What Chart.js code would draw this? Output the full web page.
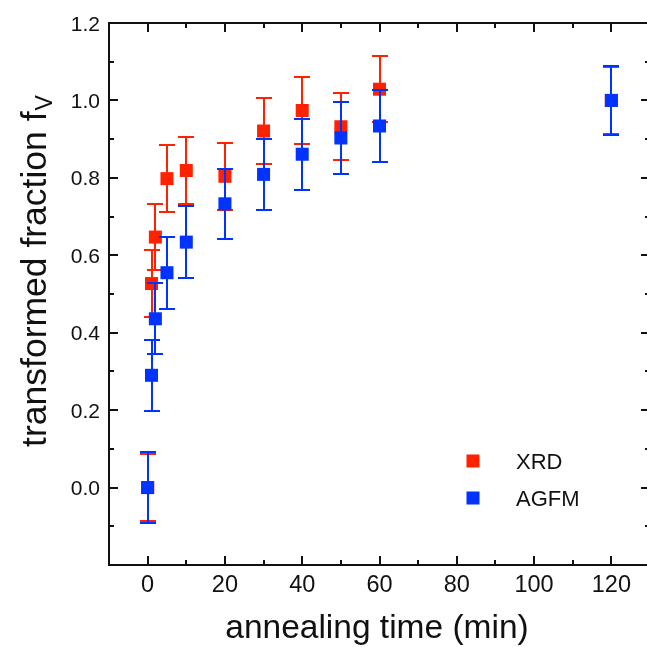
<!DOCTYPE html>
<html>
<head>
<meta charset="utf-8">
<script src="https://cdn.jsdelivr.net/npm/chart.js@4/dist/chart.umd.min.js"></script>
<style>
  html, body { margin: 0; padding: 0; background: #fff; overflow: hidden; width: 647px; height: 647px; }
  #wrap { position: absolute; left: 0; top: 0; width: 660px; height: 647px; }
</style>
</head>
<body>
<div id="wrap"><canvas id="c" width="660" height="647"></canvas></div>
<script>
// ---- data ----
const times = [0, 1, 2, 5, 10, 20, 30, 40, 50, 60, 120];
const xrdValues = [0.0, 0.527, 0.647, 0.798, 0.819, 0.804, 0.921, 0.974, 0.932, 1.029, 1.0];
const xrdErrors = [0.086, 0.086, 0.086, 0.086, 0.086, 0.086, 0.086, 0.087, 0.086, 0.086, 0.086];
const agfmValues = [0.0, 0.29, 0.436, 0.555, 0.634, 0.733, 0.809, 0.861, 0.903, 0.934, 1.0];
const agfmErrors = [0.091, 0.091, 0.092, 0.093, 0.093, 0.091, 0.092, 0.092, 0.092, 0.092, 0.09];
const seriesNames = ['XRD', 'AGFM'];
const xTickLabels = ['0', '20', '40', '60', '80', '100', '120'];
const yTickLabels = ['0.0', '0.2', '0.4', '0.6', '0.8', '1.0', '1.2'];
const xTitle = 'annealing time (min)';
const yTitle = 'transformed fraction f';
const yTitleSub = 'V';

const RED = 'rgb(255,34,0)';
const BLUE = 'rgb(0,51,255)';
const FONT = '"Liberation Sans", Arial, Helvetica, sans-serif';

function toPoints(vals) { return times.map((t, i) => ({ x: t, y: vals[i] })); }

const errorBars = {
  id: 'errorBars',
  beforeDatasetDraw(chart, args) {
    const ds = chart.data.datasets[args.index];
    const ys = chart.scales.y;
    const ctx = chart.ctx;
    ctx.save();
    ctx.strokeStyle = ds.borderColor;
    ctx.lineWidth = 2;
    args.meta.data.forEach((el, i) => {
      const v = ds.data[i].y, e = ds.errors[i];
      const yt = Math.round(ys.getPixelForValue(v + e)), yb = Math.round(ys.getPixelForValue(v - e));
      const x = Math.round(el.x);
      ctx.beginPath();
      ctx.moveTo(x, yt); ctx.lineTo(x, yb);
      ctx.moveTo(x - 8, yt); ctx.lineTo(x + 8, yt);
      ctx.moveTo(x - 8, yb); ctx.lineTo(x + 8, yb);
      ctx.stroke();
    });
    ctx.restore();
  }
};

const frame = {
  id: 'frame',
  afterDraw(chart) {
    const ctx = chart.ctx, a = chart.chartArea;
    const xs = chart.scales.x, ys = chart.scales.y;
    ctx.save();
    ctx.strokeStyle = '#111';
    ctx.lineWidth = 2;
    ctx.beginPath();
    ctx.rect(a.left, a.top, a.right - a.left, a.bottom - a.top);
    ctx.stroke();
    // inward ticks
    ctx.beginPath();
    xs.ticks.forEach(t => {
      const v = Math.round(t.value);
      const x = Math.round(xs.getPixelForValue(v));
      const len = (v % 20 === 0) ? 9 : 5;
      ctx.moveTo(x, a.bottom); ctx.lineTo(x, a.bottom - len);
      ctx.moveTo(x, a.top); ctx.lineTo(x, a.top + len);
    });
    ys.ticks.forEach(t => {
      const k = Math.round(t.value * 10);
      const y = Math.round(ys.getPixelForValue(k / 10));
      const len = (k % 2 === 0) ? 9 : 5;
      ctx.moveTo(a.left, y); ctx.lineTo(a.left + len, y);
      ctx.moveTo(a.right, y); ctx.lineTo(a.right - len, y);
    });
    ctx.stroke();

    ctx.fillStyle = '#111';
    ctx.textBaseline = 'alphabetic';

    // tick labels
    ctx.font = '23.5px ' + FONT;
    ctx.textAlign = 'center';
    xTickLabels.forEach(s => {
      ctx.fillText(s, xs.getPixelForValue(Number(s)), a.bottom + 27);
    });
    ctx.font = '21px ' + FONT;
    ctx.textAlign = 'right';
    yTickLabels.forEach(s => {
      ctx.fillText(s, a.left - 9, ys.getPixelForValue(Number(s)) + 7.5);
    });

    // axis titles
    ctx.font = '33.5px ' + FONT;
    ctx.textAlign = 'center';
    ctx.fillText(xTitle, 377, 638);

    ctx.save();
    ctx.translate(45.5, 0);
    ctx.rotate(-Math.PI / 2);
    ctx.font = '35.5px ' + FONT;
    const w1 = ctx.measureText(yTitle).width;
    ctx.font = '23px ' + FONT;
    const w2 = ctx.measureText(yTitleSub).width;
    const total = w1 + w2 + 1;
    const cy = 271;
    const start = -cy - total / 2;
    ctx.textAlign = 'left';
    ctx.font = '35.5px ' + FONT;
    ctx.fillText(yTitle, start, 0);
    ctx.font = '23px ' + FONT;
    ctx.fillText(yTitleSub, start + w1 + 1, 6);
    ctx.restore();

    // legend
    ctx.font = '22px ' + FONT;
    ctx.textAlign = 'left';
    chart.data.datasets.forEach(ds => {
      const idx = seriesNames.indexOf(ds.label);
      const cx = 473, cyL = 461 + idx * 37;
      ctx.fillStyle = ds.backgroundColor;
      ctx.fillRect(cx - 6.5, cyL - 6.5, 13, 13);
      ctx.fillStyle = '#111';
      ctx.fillText(ds.label, 516, cyL + 7.8);
    });
    ctx.restore();
  }
};

new Chart(document.getElementById('c'), {
  type: 'scatter',
  data: {
    datasets: [
      { label: seriesNames[1], data: toPoints(agfmValues), errors: agfmErrors,
        backgroundColor: BLUE, borderColor: BLUE, pointStyle: 'rect', pointRadius: 9.2,
        pointBorderWidth: 0, order: 1 },
      { label: seriesNames[0], data: toPoints(xrdValues), errors: xrdErrors,
        backgroundColor: RED, borderColor: RED, pointStyle: 'rect', pointRadius: 9.2,
        pointBorderWidth: 0, order: 2 }
    ]
  },
  options: {
    responsive: false,
    animation: false,
    devicePixelRatio: 1,
    layout: { padding: { left: 0, top: 23, right: 10, bottom: 0 } },
    plugins: { legend: { display: false }, tooltip: { enabled: false } },
    elements: { point: { hoverRadius: 9.2 } },
    scales: {
      x: {
        type: 'linear', min: -10, max: 130,
        afterFit(s) { s.height = 82; },
        grid: { display: false, drawTicks: false },
        border: { display: false },
        ticks: { stepSize: 10, autoSkip: false, maxRotation: 0, display: false }
      },
      y: {
        type: 'linear', min: -0.2, max: 1.2,
        afterFit(s) { s.width = 109; },
        grid: { display: false, drawTicks: false },
        border: { display: false },
        ticks: { stepSize: 0.1, autoSkip: false, display: false }
      }
    }
  },
  plugins: [errorBars, frame]
});
</script>
</body>
</html>
